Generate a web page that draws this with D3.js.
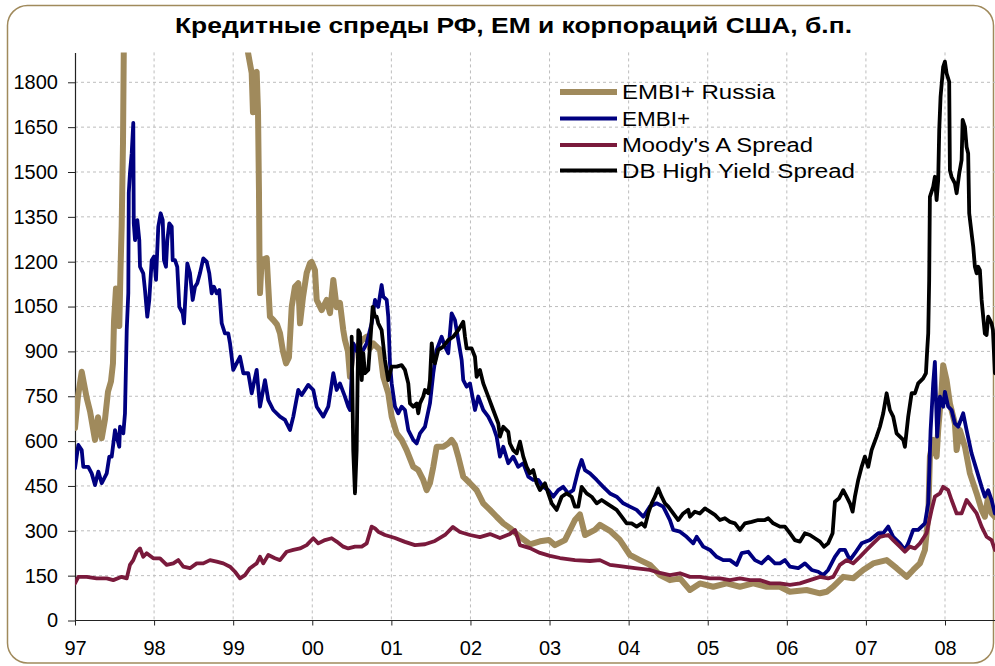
<!DOCTYPE html>
<html>
<head>
<meta charset="utf-8">
<script src="https://cdn.jsdelivr.net/npm/d3@7"></script>
<style>
  html, body { margin: 0; padding: 0; background: #fff; }
  svg { display: block; font-family: "Liberation Sans", Arial, sans-serif; }
</style>
</head>
<body>
<svg id="chart" width="995" height="666"></svg>
<script>
// Данные: [год (дробный), спред в б.п.]
// =====================================
const russia = [
  [1997.000,644],[1997.038,750],[1997.085,832],[1997.148,744],[1997.190,700],[1997.253,604],[1997.291,680],[1997.338,610],
  [1997.379,672],[1997.417,765],[1997.455,800],[1997.480,860],[1997.493,1000],[1997.518,1110],[1997.544,1060],[1997.560,985],
  [1997.575,1170],[1997.590,1317],[1997.607,1600],[1997.626,2200],[1997.645,3500],[1997.759,5000],[1998.327,4500],[1998.960,3000],
  [1999.137,2200],[1999.187,1900],[1999.234,1831],[1999.250,1700],[1999.263,1830],[1999.297,1835],[1999.314,1700],[1999.326,1440],
  [1999.333,1200],[1999.339,1095],[1999.360,1205],[1999.424,1212],[1999.444,1116],[1999.465,1016],[1999.507,1005],[1999.554,990],
  [1999.592,961],[1999.630,900],[1999.668,860],[1999.705,880],[1999.740,1049],[1999.781,1116],[1999.823,1128],[1999.845,994],
  [1999.882,1080],[1999.929,1162],[1999.971,1195],[1999.992,1199],[2000.034,1172],[2000.056,1072],[2000.119,1038],[2000.182,1072],
  [2000.224,1028],[2000.266,1139],[2000.308,1048],[2000.350,1062],[2000.392,971],[2000.413,938],[2000.451,900],[2000.477,815],
  [2000.518,905],[2000.578,920],[2000.641,940],[2000.688,949],[2000.729,910],[2000.771,927],[2000.856,905],[2000.898,815],
  [2000.961,760],[2001.004,682],[2001.067,626],[2001.130,604],[2001.193,570],[2001.277,514],[2001.340,503],[2001.403,470],
  [2001.446,436],[2001.488,459],[2001.530,514],[2001.573,581],[2001.656,581],[2001.719,592],[2001.762,604],[2001.804,587],
  [2001.846,548],[2001.909,481],[2001.994,459],[2002.078,436],[2002.162,392],[2002.247,370],[2002.331,347],[2002.415,325],
  [2002.499,309],[2002.626,280],[2002.752,255],[2002.879,265],[2002.992,269],[2003.068,252],[2003.195,269],[2003.321,336],
  [2003.384,355],[2003.448,286],[2003.574,303],[2003.637,320],[2003.764,300],[2003.890,269],[2004.016,219],[2004.143,202],
  [2004.269,186],[2004.396,152],[2004.522,135],[2004.649,141],[2004.775,102],[2004.901,124],[2005.070,113],[2005.239,124],
  [2005.407,113],[2005.575,124],[2005.745,113],[2005.913,113],[2006.039,96],[2006.250,102],[2006.419,91],[2006.503,96],
  [2006.587,113],[2006.713,146],[2006.839,141],[2006.966,169],[2007.092,191],[2007.262,202],[2007.388,175],[2007.515,146],
  [2007.598,169],[2007.683,191],[2007.746,236],[2007.788,347],[2007.809,548],[2007.851,604],[2007.894,548],[2007.914,637],
  [2007.957,771],[2007.977,854],[2008.020,804],[2008.062,726],[2008.125,659],[2008.147,570],[2008.188,637],[2008.252,581],
  [2008.315,492],[2008.400,425],[2008.463,370],[2008.504,347],[2008.546,414],[2008.589,358],[2008.631,347]
]

const embi = [
  [1997.000,509],[1997.042,587],[1997.085,570],[1997.105,514],[1997.168,514],[1997.211,492],[1997.253,453],[1997.295,498],
  [1997.338,459],[1997.401,492],[1997.434,548],[1997.464,548],[1997.506,637],[1997.560,581],[1997.569,648],[1997.611,626],
  [1997.632,693],[1997.654,971],[1997.674,1095],[1997.680,1430],[1997.695,1497],[1997.717,1563],[1997.737,1664],[1997.743,1328],
  [1997.759,1272],[1997.788,1339],[1997.813,1272],[1997.822,1183],[1997.863,1161],[1997.885,1105],[1997.914,1016],[1997.939,1072],
  [1997.970,1205],[1997.999,1217],[1998.024,1139],[1998.053,1317],[1998.083,1362],[1998.109,1339],[1998.125,1205],[1998.150,1183],
  [1998.167,1272],[1998.192,1328],[1998.223,1317],[1998.235,1205],[1998.264,1205],[1998.293,1183],[1998.319,1049],[1998.362,1027],
  [1998.378,994],[1998.403,1116],[1998.420,1194],[1998.454,1161],[1998.488,1072],[1998.517,1116],[1998.546,1128],[1998.580,1161],
  [1998.622,1211],[1998.665,1200],[1998.698,1161],[1998.728,1094],[1998.757,1116],[1998.791,1094],[1998.824,1105],[1998.855,994],
  [1998.896,960],[1998.938,960],[1998.960,927],[1999.001,838],[1999.086,882],[1999.128,827],[1999.191,827],[1999.234,760],
  [1999.297,838],[1999.339,715],[1999.402,804],[1999.444,737],[1999.507,704],[1999.592,682],[1999.655,671],[1999.718,637],
  [1999.760,682],[1999.823,771],[1999.866,754],[1999.949,788],[2000.013,771],[2000.056,715],[2000.139,682],[2000.202,715],
  [2000.266,827],[2000.308,771],[2000.350,793],[2000.413,749],[2000.455,715],[2000.477,704],[2000.518,927],[2000.565,900],
  [2000.645,905],[2000.688,927],[2000.751,994],[2000.793,1072],[2000.834,1049],[2000.877,1122],[2000.898,1083],[2000.941,1072],
  [2000.961,1016],[2000.982,860],[2001.004,793],[2001.046,715],[2001.087,693],[2001.130,715],[2001.172,704],[2001.214,637],
  [2001.277,604],[2001.320,592],[2001.362,626],[2001.425,648],[2001.488,726],[2001.530,827],[2001.573,905],[2001.636,949],
  [2001.678,916],[2001.719,894],[2001.762,1027],[2001.804,1005],[2001.846,938],[2001.889,871],[2001.909,804],[2001.952,782],
  [2001.994,793],[2002.057,704],[2002.099,749],[2002.162,704],[2002.225,682],[2002.288,648],[2002.331,615],[2002.373,548],
  [2002.415,581],[2002.478,526],[2002.541,548],[2002.604,514],[2002.668,526],[2002.731,481],[2002.794,470],[2002.857,470],
  [2002.920,447],[2002.984,436],[2003.047,414],[2003.110,436],[2003.173,447],[2003.236,425],[2003.300,436],[2003.363,503],
  [2003.406,537],[2003.448,503],[2003.511,492],[2003.596,470],[2003.679,447],[2003.764,425],[2003.848,414],[2003.932,392],
  [2004.016,381],[2004.101,370],[2004.185,347],[2004.269,381],[2004.354,392],[2004.437,381],[2004.522,336],[2004.564,303],
  [2004.649,297],[2004.733,280],[2004.817,258],[2004.860,280],[2004.943,247],[2005.028,236],[2005.113,213],[2005.196,202],
  [2005.281,202],[2005.365,186],[2005.429,225],[2005.512,230],[2005.597,202],[2005.681,191],[2005.765,213],[2005.850,191],
  [2005.913,191],[2005.976,202],[2006.039,180],[2006.144,175],[2006.229,191],[2006.314,169],[2006.397,163],[2006.460,152],
  [2006.523,169],[2006.608,213],[2006.671,236],[2006.735,236],[2006.798,202],[2006.861,225],[2006.946,258],[2007.051,269],
  [2007.156,292],[2007.219,292],[2007.282,314],[2007.345,280],[2007.430,258],[2007.493,236],[2007.535,258],[2007.598,303],
  [2007.661,303],[2007.746,325],[2007.788,392],[2007.818,637],[2007.851,793],[2007.872,865],[2007.901,615],[2007.936,749],
  [2007.977,715],[2007.999,765],[2008.040,715],[2008.083,704],[2008.125,659],[2008.167,648],[2008.230,693],[2008.273,637],
  [2008.336,559],[2008.400,503],[2008.463,447],[2008.504,414],[2008.546,436],[2008.589,403],[2008.631,358]
]

const moodys = [
  [1997.000,124],[1997.042,146],[1997.148,146],[1997.274,141],[1997.401,141],[1997.484,135],[1997.590,146],[1997.654,141],
  [1997.695,186],[1997.737,202],[1997.780,230],[1997.822,241],[1997.863,213],[1997.906,225],[1997.990,208],[1998.075,208],
  [1998.159,186],[1998.243,191],[1998.306,202],[1998.369,180],[1998.454,175],[1998.539,191],[1998.622,191],[1998.707,202],
  [1998.791,197],[1998.875,191],[1998.960,180],[1999.023,163],[1999.086,141],[1999.149,152],[1999.212,175],[1999.297,191],
  [1999.339,213],[1999.381,191],[1999.444,219],[1999.528,208],[1999.592,202],[1999.676,230],[1999.760,236],[1999.845,241],
  [1999.929,252],[2000.013,275],[2000.076,258],[2000.161,269],[2000.245,275],[2000.308,264],[2000.392,247],[2000.455,241],
  [2000.540,247],[2000.625,247],[2000.688,258],[2000.751,314],[2000.793,308],[2000.834,297],[2000.919,286],[2001.046,276],
  [2001.172,263],[2001.298,252],[2001.425,255],[2001.551,266],[2001.678,286],[2001.779,313],[2001.867,296],[2001.994,286],
  [2002.120,279],[2002.247,289],[2002.373,276],[2002.499,289],[2002.563,303],[2002.626,252],[2002.752,242],[2002.879,226],
  [2003.005,216],[2003.132,209],[2003.321,202],[2003.511,199],[2003.637,202],[2003.764,186],[2003.890,182],[2004.080,175],
  [2004.269,169],[2004.396,159],[2004.522,152],[2004.649,158],[2004.775,146],[2004.901,146],[2005.028,141],[2005.154,141],
  [2005.281,135],[2005.407,141],[2005.534,135],[2005.660,135],[2005.786,124],[2005.913,124],[2006.039,119],[2006.166,124],
  [2006.292,135],[2006.419,146],[2006.523,141],[2006.587,146],[2006.671,186],[2006.756,202],[2006.839,191],[2006.924,213],
  [2007.009,236],[2007.092,258],[2007.177,280],[2007.282,286],[2007.345,269],[2007.430,247],[2007.493,230],[2007.556,247],
  [2007.620,241],[2007.683,258],[2007.767,292],[2007.831,370],[2007.872,414],[2007.936,425],[2007.977,447],[2008.040,436],
  [2008.083,403],[2008.147,358],[2008.210,358],[2008.273,403],[2008.336,381],[2008.400,358],[2008.463,314],[2008.526,280],
  [2008.589,269],[2008.631,236]
]

const dbHighYield = [
  [2000.498,949],[2000.518,570],[2000.540,425],[2000.561,570],[2000.582,971],[2000.603,960],[2000.625,804],[2000.645,894],
  [2000.666,827],[2000.708,838],[2000.729,916],[2000.764,1049],[2000.793,1016],[2000.814,1016],[2000.834,994],[2000.877,971],
  [2000.919,871],[2000.961,804],[2001.004,849],[2001.067,849],[2001.130,854],[2001.172,838],[2001.214,793],[2001.235,726],
  [2001.277,715],[2001.320,726],[2001.340,693],[2001.362,726],[2001.403,749],[2001.425,771],[2001.467,760],[2001.488,804],
  [2001.510,927],[2001.530,882],[2001.551,860],[2001.593,905],[2001.656,916],[2001.719,938],[2001.783,949],[2001.846,971],
  [2001.909,999],[2001.931,949],[2001.952,910],[2002.015,910],[2002.057,882],[2002.078,815],[2002.120,838],[2002.162,793],
  [2002.225,749],[2002.288,704],[2002.352,659],[2002.373,615],[2002.415,648],[2002.478,631],[2002.499,592],[2002.541,570],
  [2002.584,559],[2002.626,598],[2002.668,548],[2002.711,514],[2002.752,492],[2002.794,503],[2002.837,459],[2002.879,436],
  [2002.942,459],[2002.984,425],[2003.027,392],[2003.090,370],[2003.153,414],[2003.216,425],[2003.279,414],[2003.321,381],
  [2003.363,381],[2003.406,447],[2003.469,425],[2003.532,414],[2003.596,392],[2003.659,403],[2003.722,392],[2003.785,381],
  [2003.848,370],[2003.912,347],[2003.975,325],[2004.038,325],[2004.101,314],[2004.164,325],[2004.206,314],[2004.248,358],
  [2004.291,392],[2004.333,414],[2004.374,442],[2004.417,414],[2004.459,392],[2004.501,381],[2004.564,358],[2004.627,336],
  [2004.690,358],[2004.754,370],[2004.775,347],[2004.838,364],[2004.901,358],[2004.965,375],[2005.028,364],[2005.091,353],
  [2005.154,336],[2005.217,342],[2005.281,330],[2005.344,325],[2005.407,303],[2005.470,325],[2005.555,330],[2005.638,336],
  [2005.723,336],[2005.765,342],[2005.828,325],[2005.913,314],[2005.976,314],[2006.039,292],[2006.102,269],[2006.166,264],
  [2006.229,292],[2006.292,286],[2006.355,275],[2006.419,264],[2006.469,247],[2006.523,258],[2006.579,292],[2006.608,397],
  [2006.662,409],[2006.713,436],[2006.756,414],[2006.798,392],[2006.832,364],[2006.861,414],[2006.903,470],[2006.946,514],
  [2006.987,548],[2007.029,514],[2007.072,570],[2007.135,615],[2007.177,648],[2007.219,693],[2007.262,760],[2007.303,704],
  [2007.345,682],[2007.388,626],[2007.430,615],[2007.472,604],[2007.493,581],[2007.535,682],[2007.578,760],[2007.620,760],
  [2007.661,793],[2007.724,810],[2007.759,827],[2007.775,905],[2007.788,960],[2007.800,1139],[2007.809,1417],[2007.851,1451],
  [2007.872,1484],[2007.894,1406],[2007.914,1473],[2007.927,1640],[2007.944,1752],[2007.977,1852],[2007.999,1869],[2008.020,1830],
  [2008.053,1802],[2008.062,1506],[2008.083,1484],[2008.125,1462],[2008.147,1429],[2008.180,1495],[2008.210,1540],[2008.223,1674],
  [2008.252,1651],[2008.273,1584],[2008.293,1562],[2008.306,1362],[2008.336,1295],[2008.357,1250],[2008.378,1183],[2008.400,1161],
  [2008.420,1183],[2008.441,1172],[2008.463,1072],[2008.483,1016],[2008.504,960],[2008.526,955],[2008.546,1016],[2008.589,994],
  [2008.606,971],[2008.631,827]
]

const seriesNames = ['EMBI+ Russia', 'EMBI+', "Moody's A Spread", 'DB High Yield Spread']
const years = d3.range(1997, 2009)
const yTicks = d3.range(0, 1801, 150)
const titleText = 'Кредитные спреды РФ, ЕМ и корпораций США, б.п.'

// Оформление
// =========
const styles = {
  colors: ['#A08A5C', '#000080', '#7A1A3C', '#000000'],
  widths: [6, 3.8, 3.8, 3.8],
  legendTextWidths: [153, 68, 191, 233],
  frame: '#A08A5C',
  grid: '#BDBDBD',
  axis: '#222',
  fontSize: 20
}

const plot = { left: 75, right: 1000, top: 52.4, bottom: 620.5 }

const svg = d3.select('#chart')

const x = d3.scaleLinear().domain([1997, 2008]).range([plot.left, 945])
const y = d3.scaleLinear().domain([0, 1900]).range([plot.bottom, plot.top])

/**
 * Рамка со скруглёнными углами
 */
function drawFrame(selection) {
  selection.append('rect')
    .attr('x', 7.5)
    .attr('y', 5.5)
    .attr('width', 986)
    .attr('height', 657.5)
    .attr('rx', 20)
    .attr('fill', '#fff')
    .attr('stroke', styles.frame)
    .attr('stroke-width', 1.5)
}

function drawTitle(selection) {
  selection.append('text')
    .attr('x', 513.5)
    .attr('y', 25)
    .attr('dy', '.35em')
    .attr('text-anchor', 'middle')
    .attr('font-weight', 'bold')
    .attr('font-size', 22)
    .attr('textLength', 677)
    .attr('lengthAdjust', 'spacingAndGlyphs')
    .text(titleText)
}

function drawGrid(selection) {
  const g = selection.append('g').classed('grid', true)
    .attr('stroke', styles.grid)
    .attr('stroke-width', 1)
    .attr('stroke-dasharray', '3,3')

  g.selectAll('line.h').data(yTicks.filter(d => d > 0)).enter()
    .append('line').classed('h', true)
    .attr('x1', plot.left).attr('x2', plot.right)
    .attr('y1', d => y(d)).attr('y2', d => y(d))

  g.selectAll('line.v').data(years.filter(d => d > 1997)).enter()
    .append('line').classed('v', true)
    .attr('x1', d => x(d)).attr('x2', d => x(d))
    .attr('y1', plot.top).attr('y2', plot.bottom)
}

function drawAxes(selection) {
  const yAxis = d3.axisLeft(y)
    .tickValues(yTicks)
    .tickSize(7)
    .tickSizeOuter(0)
    .tickPadding(10)
    .tickFormat(d3.format('d'))

  const gy = selection.append('g')
    .attr('transform', `translate(${plot.left},0)`)
    .call(yAxis)

  const xAxis = d3.axisBottom(x)
    .tickValues(years)
    .tickSize(5)
    .tickSizeOuter(0)
    .tickPadding(15)
    .tickFormat(d => String(d).slice(2))

  const gx = selection.append('g')
    .attr('transform', `translate(0,${plot.bottom})`)
    .call(xAxis)

  gx.select('.domain').remove()
  gx.append('line')
    .attr('x1', plot.left).attr('x2', plot.right)
    .attr('stroke', styles.axis)
    .attr('stroke-width', 1.2)

  ;[gx, gy].forEach(g => {
    g.selectAll('.domain').attr('stroke', styles.axis).attr('stroke-width', 1.2)
    g.selectAll('.tick line').attr('stroke', styles.axis)
    g.selectAll('.tick text')
      .attr('fill', '#000')
      .attr('font-size', styles.fontSize)
      .attr('font-family', '"Liberation Sans", Arial, sans-serif')
  })
}

function drawLines(selection) {
  selection.append('clipPath')
    .attr('id', 'plot-clip')
    .append('rect')
    .attr('x', plot.left)
    .attr('y', plot.top)
    .attr('width', plot.right - plot.left)
    .attr('height', plot.bottom - plot.top)

  const line = d3.line()
    .x(d => x(d[0]))
    .y(d => y(d[1]))

  const data = [russia, embi, moodys, dbHighYield]

  selection.append('g')
    .attr('clip-path', 'url(#plot-clip)')
    .selectAll('path')
    .data(data)
    .enter()
    .append('path')
    .attr('d', line)
    .attr('fill', 'none')
    .attr('stroke', (d, i) => styles.colors[i])
    .attr('stroke-width', (d, i) => styles.widths[i])
    .attr('stroke-linejoin', 'round')
    .attr('stroke-linecap', 'round')
}

function drawLegend(selection) {
  const rows = [92, 118.5, 145, 170.5]
  const g = selection.append('g').classed('legend', true)

  const item = g.selectAll('g')
    .data(seriesNames)
    .enter()
    .append('g')
    .attr('transform', (d, i) => `translate(0,${rows[i]})`)

  item.append('line')
    .attr('x1', 560).attr('x2', 617)
    .attr('stroke', (d, i) => styles.colors[i])
    .attr('stroke-width', (d, i) => styles.widths[i])

  item.append('text')
    .attr('x', 622)
    .attr('dy', '.35em')
    .attr('font-size', styles.fontSize)
    .attr('textLength', (d, i) => styles.legendTextWidths[i])
    .attr('lengthAdjust', 'spacingAndGlyphs')
    .text(d => d)
}

svg.call(drawFrame)
svg.call(drawTitle)
svg.call(drawGrid)
svg.call(drawAxes)
svg.call(drawLines)
svg.call(drawLegend)
</script>
</body>
</html>
